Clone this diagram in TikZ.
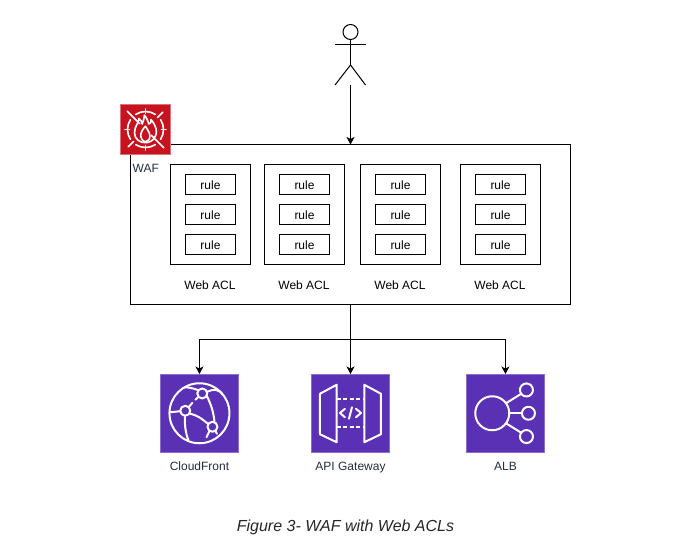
\documentclass[tikz,border=0pt]{standalone}
\usepackage{fontspec}
\setmainfont{Liberation Sans}
\usetikzlibrary{arrows.meta,calc}
\definecolor{wafred}{HTML}{C7131F}
\definecolor{awspurple}{HTML}{5A30B5}
\definecolor{awstext}{HTML}{232F3E}
\tikzset{
  x=1pt,y=-1pt,
  box/.style={draw=black,line width=1pt,fill=white,inner sep=0pt,outer sep=0pt,anchor=north west},
  rulebox/.style={box,minimum width=50pt,minimum height=20pt,font=\fontsize{12}{14}\selectfont,text depth=0pt,text height=10pt},
  aclbox/.style={box,minimum width=80pt,minimum height=100pt},
  lab/.style={font=\fontsize{12}{14}\selectfont,inner sep=0pt},
  awslab/.style={lab,text=awstext,anchor=base},
  conn/.style={draw=black,line width=1pt,-{Stealth[length=7.5pt,width=8pt,inset=2pt]}},
  stick/.style={draw=black,line width=1pt},
  icon/.style={inner sep=0pt,outer sep=0pt,minimum width=78.5pt,minimum height=78.5pt,anchor=north west,fill=awspurple,draw=awspurple!70!white,line width=.5pt},
  glyph/.style={draw=white,line width=2pt,line cap=round,line join=round},
  wafglyph/.style={draw=white,line width=1.6pt,line cap=round,line join=round},
}
\begin{document}
\begin{tikzpicture}
\useasboundingbox (0,0) rectangle (690,555);
\fill[white] (0,0) rectangle (690,555);

% actor
\node[circle,draw=black,line width=1pt,minimum size=15pt,inner sep=0pt,outer sep=0pt] (head) at (350.5,32) {};
\coordinate (hip) at (350.5,65);
\coordinate (foot) at (350.5,85);
\draw[stick] (head.south) -- (hip);
\draw[stick] (335,44.5) -- (365.5,44.5);
\draw[stick] (335,85) -- (hip) -- (365.5,85);

% WAF container
\node[box,minimum width=440pt,minimum height=160pt] (waf) at (130.5,144.5) {};

% Web ACLs
\foreach \n/\x in {a/170.5,b/264.5,c/360.5,d/460.5}{
  \node[aclbox] (acl\n) at (\x,164.5) {};
  \node[rulebox] (r\n1) at (\x+15,174.5) {rule};
  \node[rulebox] (r\n2) at (\x+15,204.5) {rule};
  \node[rulebox] (r\n3) at (\x+15,234.5) {rule};
  \node[lab] (l\n) at (\x+39.5,285) {Web ACL};
}

% WAF icon
\node[inner sep=0pt,outer sep=0pt,minimum size=50pt,anchor=north west,fill=wafred,draw=wafred!60!white,line width=.5pt] (wafi) at (120.5,104.5) {};
\begin{scope}[shift={(wafi.center)},y=1pt]
  \foreach \a in {0,90,180,270}{
    \draw[wafglyph] (\a-33:18) arc[start angle=\a-33,delta angle=66,radius=18];
    \draw[wafglyph] (\a:16) -- (\a:20.5);
  }
  \draw[wafglyph] (135:26) -- (135:8) (-45:26) -- (-45:8);
  \draw[wafglyph] (45:17) -- (45:24.5) (225:17) -- (225:24.5);
  \begin{scope}[y=-1pt,scale=1.1]
  \draw[wafglyph] (-1,-13) .. controls (3,-8) and (2,-6) .. (3,-5) .. controls (5,-5) and (5,-7) .. (5,-9) .. controls (10,-3) and (11,2) .. (9,6) .. controls (7,11) and (2,12) .. (0,12) .. controls (-5,12) and (-10,9) .. (-10,3) .. controls (-10,-3) and (-6,-6) .. (-6,-10) .. controls (-4,-8) and (-3,-7) .. (-3,-5) .. controls (-2,-8) and (-1,-10) .. (-1,-13) -- cycle;
  \draw[wafglyph] (-1,11) .. controls (-5,9) and (-5,4) .. (-3,1) .. controls (-2,-1) and (-1,-2) .. (0,-3) .. controls (1,0) and (4,2) .. (4,6) .. controls (4,9) and (2,11) .. (0,11);
  \end{scope}
\end{scope}
\node[lab,text=awstext,anchor=west] (wafl) at (132.5,168) {WAF};

% service icons
\node[icon] (cf) at (160.2,374) {};
\node[icon] (api) at (311.2,374) {};
\node[icon] (alb) at (466.2,374) {};

% CloudFront glyph
\begin{scope}[shift={(cf.center)}]
  \draw[glyph] (0,0) circle[radius=30];
  \draw[glyph] (2.8,-19.8) circle[radius=5];
  \draw[glyph] (-14.2,-2.5) circle[radius=5];
  \draw[glyph] (13,13.5) circle[radius=5];
  \draw[glyph] (-1.5,-16) -- (-4,-13.5) (-7,-10.5) -- (-10.5,-6.5);
  \draw[glyph] (-9,0.5) .. controls (-2,2) and (3,6) .. (8.5,10.5);
  \draw[glyph] (7.3,-17.5) .. controls (11,-10) and (14,-2) .. (15,8);
  \draw[glyph] (-19.5,-2) -- (-29.5,-1);
  \draw[glyph] (-15,-26) .. controls (-9,-26) and (-4,-24) .. (-1,-23);
  \draw[glyph] (7.5,-21.5) .. controls (14,-24) and (18,-25) .. (23,-19);
  \draw[glyph] (-14.5,3) .. controls (-15,10) and (-14,20) .. (-11,27);
  \draw[glyph] (10,18) -- (7,24) (16,18) -- (17.5,20.5);
\end{scope}

% API Gateway glyph
\begin{scope}[shift={(api.center)}]
  \draw[glyph] (-30.5,-19.5) -- (-13.8,-28.5) -- (-13.8,29) -- (-30.5,21) -- cycle;
  \draw[glyph] (30.5,-19.5) -- (13.8,-28.5) -- (13.8,29) -- (30.5,21) -- cycle;
  \draw[draw=white,line width=2pt,dash pattern=on 4pt off 2.6pt] (-13.8,-14.3) -- (13.8,-14.3) (-13.8,13.7) -- (13.8,13.7);
  \draw[glyph] (-5.5,-4.5) -- (-10.5,-.3) -- (-5.5,4);
  \draw[glyph] (5.5,-4.5) -- (10.5,-.3) -- (5.5,4);
  \draw[glyph] (1.5,-6) -- (-1.5,5.5);
\end{scope}

% ALB glyph
\begin{scope}[shift={(alb.center)}]
  \draw[glyph] (-13.2,0) circle[radius=17];
  \draw[glyph] (21,-23.3) circle[radius=6.5];
  \draw[glyph] (23,0) circle[radius=6.5];
  \draw[glyph] (21,23.3) circle[radius=6.5];
  \draw[glyph] (3.5,0) -- (16.5,0);
  \draw[glyph] (0.5,-10) -- (15.8,-19.5);
  \draw[glyph] (0.5,10) -- (15.8,19.5);
\end{scope}

% service labels
\node[awslab] (cfl) at (199.5,470) {CloudFront};
\node[awslab] (apil) at (350.5,470) {API Gateway};
\node[awslab] (albl) at (505.5,470) {ALB};

% connectors
\coordinate (split) at (350.5,339.5);
\draw[conn] (foot) -- (head.south |- waf.north);
\draw[conn] (split |- waf.south) -- (split |- api.north);
\draw[conn] (split) -| (cf.north);
\draw[conn] (split) -| (alb.north);

% caption
\node[font=\fontsize{16}{19}\selectfont\itshape,inner sep=0pt,text=black!85] (cap) at (345.5,527) {Figure 3- WAF with Web ACLs};
\end{tikzpicture}
\end{document}
